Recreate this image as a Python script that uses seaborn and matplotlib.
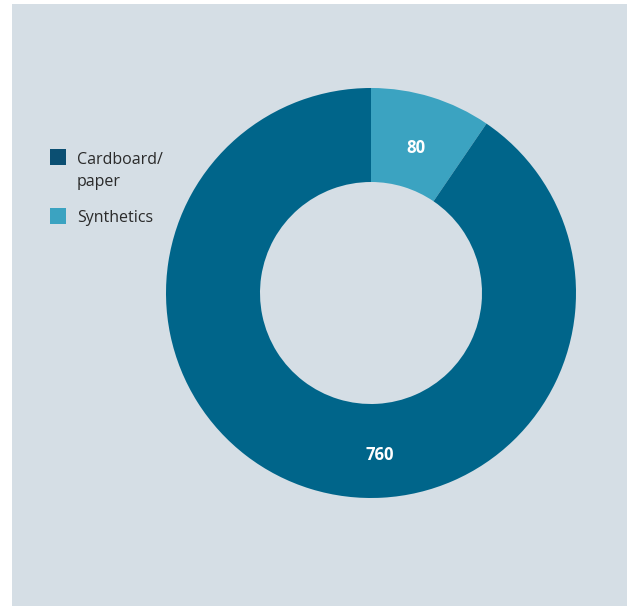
import matplotlib
matplotlib.use("Agg")
import matplotlib.pyplot as plt
import seaborn as sns
import numpy as np
from matplotlib.patches import Rectangle

categories = ["Synthetics", "Cardboard/\npaper"]
values = [80, 760]
colors = ["#3ba3c1", "#00658a"]
legend_order = ["Cardboard/\npaper", "Synthetics"]
legend_colors = ["#0b4f72", "#3ba3c1"]

sns.set_theme(style="white")
plt.rcParams['font.family'] = ['Open Sans', 'DejaVu Sans']

W, H = 627, 606
fig = plt.figure(figsize=(W / 100, H / 100), dpi=100, facecolor="white")
fig.patches.append(Rectangle((12 / W, 0), 1 - 12 / W, 1 - 4 / H,
                             transform=fig.transFigure, facecolor="#d5dee5",
                             edgecolor="none", zorder=-10))

cx, cy, R = 371, 293, 205
ax = fig.add_axes([(cx - R) / W, (H - cy - R) / H, 2 * R / W, 2 * R / H])
ax.set_facecolor("none")
ax.patch.set_alpha(0)
ax.set_zorder(5)

wedges, _ = ax.pie(values, colors=colors, startangle=90, counterclock=False,
                   radius=1.0, wedgeprops=dict(width=1 - 111 / 205, edgecolor="none"))
ax.set_xlim(-1, 1)
ax.set_ylim(-1, 1)
ax.set_aspect("equal")
ax.axis("off")

# value labels
total = sum(values)
start = 90.0
for v in values:
    span = v / total * 360
    mid = start - span / 2
    r = 0.74
    if v == 760:
        mid = -87.0
        r = 0.79
    ang = np.deg2rad(mid)
    ax.text(r * np.cos(ang), r * np.sin(ang), str(v), ha="center", va="center",
            color="white", fontsize=12, fontweight="bold")
    start -= span

# legend (manual, square aligned with first text line)
leg_y = [149, 208]
for lab, col, y in zip(legend_order, legend_colors, leg_y):
    fig.patches.append(Rectangle((50 / W, 1 - (y + 16) / H), 16 / W, 16 / H,
                                 transform=fig.transFigure, facecolor=col,
                                 edgecolor="none", zorder=3))
    fig.text(77 / W, 1 - (y + 2.5) / H, lab, ha="left", va="top", fontsize=11.5,
             color="#2a2a2a", linespacing=1.5)

fig.savefig("out.png", dpi=100, facecolor="white")
